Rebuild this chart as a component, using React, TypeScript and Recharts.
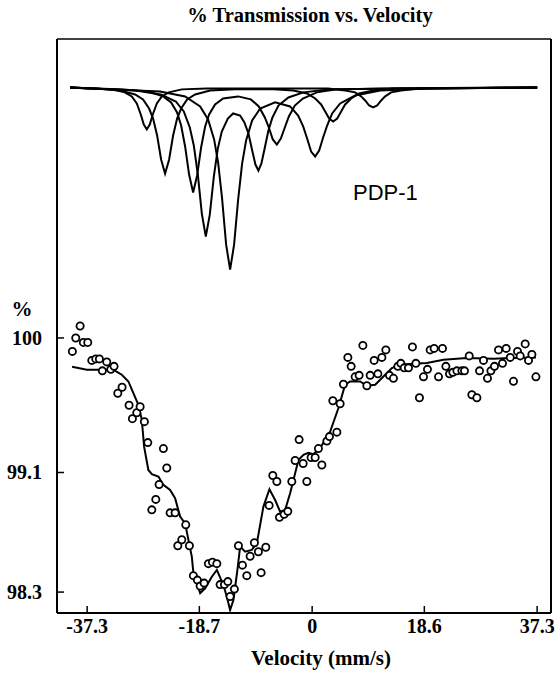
import React from 'react';
import { ComposedChart, Line, Scatter, XAxis, YAxis } from 'recharts';

const velocityTicks = [-37.3, -18.7, 0, 18.6, 37.3];
const transmissionTicks = [98.3, 99.1, 100];

// measured points [velocity mm/s, % transmission]
const measured: number[][] = [
  [-39.75, 99.91], [-39.19, 100.0], [-38.47, 100.08], [-37.93, 99.97], [-37.2, 99.97],
  [-36.53, 99.85], [-35.87, 99.86], [-35.27, 99.86], [-34.78, 99.78], [-34.05, 99.84],
  [-33.38, 99.79], [-32.84, 99.81], [-32.22, 99.63], [-31.51, 99.67], [-30.35, 99.55],
  [-29.8, 99.46], [-29.07, 99.5], [-28.52, 99.54], [-27.81, 99.44], [-27.25, 99.3],
  [-26.58, 98.85], [-25.92, 98.92], [-25.37, 99.02], [-24.66, 99.26], [-24.1, 99.13],
  [-23.55, 98.83], [-22.72, 98.83], [-22.27, 98.61], [-21.61, 98.65], [-20.95, 98.75],
  [-20.35, 98.61], [-19.69, 98.41], [-19.02, 98.38], [-18.57, 98.34], [-17.91, 98.36],
  [-17.2, 98.49], [-16.53, 98.5], [-15.8, 98.49], [-15.26, 98.35], [-14.54, 98.35],
  [-13.98, 98.37], [-13.6, 98.27], [-12.89, 98.32], [-12.22, 98.61], [-11.56, 98.48],
  [-10.83, 98.41], [-10.28, 98.54], [-9.57, 98.63], [-8.91, 98.57], [-8.46, 98.43],
  [-7.68, 98.6], [-7.13, 98.88], [-6.52, 99.08], [-5.85, 99.04], [-5.42, 98.8],
  [-4.64, 98.82], [-4.03, 98.84], [-3.37, 99.04], [-2.82, 99.18], [-2.16, 99.32],
  [-1.49, 99.16], [-0.88, 99.04], [-0.17, 99.2], [0.5, 99.2], [1.04, 99.26],
  [1.61, 99.15], [2.44, 99.31], [2.87, 99.34], [3.43, 99.58], [4.1, 99.37],
  [4.64, 99.56], [5.19, 99.69], [5.92, 99.87], [6.47, 99.81], [7.13, 99.74],
  [7.79, 99.75], [8.41, 99.95], [9.07, 99.68], [9.62, 99.75], [10.28, 99.85],
  [10.9, 99.76], [11.56, 99.87], [12.22, 99.92], [12.82, 99.75], [13.48, 99.73],
  [14.21, 99.81], [14.71, 99.83], [15.26, 99.8], [15.97, 99.8], [16.63, 99.94],
  [17.2, 99.83], [17.79, 99.6], [18.46, 99.74], [19.12, 99.79], [19.57, 99.92],
  [20.23, 99.93], [20.95, 99.74], [21.61, 99.93], [22.17, 99.81], [22.77, 99.76],
  [23.33, 99.77], [24.0, 99.78], [24.83, 99.78], [25.26, 99.78], [26.04, 99.88],
  [26.48, 99.62], [27.31, 99.6], [27.75, 99.78], [28.41, 99.85], [29.07, 99.73],
  [29.64, 99.78], [30.23, 99.81], [30.9, 99.92], [31.56, 99.83], [32.17, 99.93],
  [32.84, 99.87], [33.38, 99.71], [34.05, 99.91], [34.49, 99.88], [35.32, 99.96],
  [35.87, 99.85], [36.43, 99.89], [37.1, 99.74],
];

// fitted envelope
const fit: number[][] = [
  [-39.8, 99.807], [-37.36, 99.787], [-34.88, 99.787], [-32.95, 99.787], [-31.56, 99.754],
  [-30.46, 99.709], [-29.64, 99.631], [-28.81, 99.553], [-28.24, 99.452], [-27.86, 99.273],
  [-27.15, 99.117], [-26.58, 99.089], [-25.49, 99.073], [-24.66, 99.017], [-23.55, 98.983],
  [-22.72, 98.928], [-21.89, 98.805], [-21.06, 98.76], [-20.51, 98.649], [-19.95, 98.537],
  [-19.68, 98.425], [-19.12, 98.359], [-18.57, 98.292], [-17.74, 98.325], [-16.63, 98.403],
  [-15.8, 98.448], [-14.71, 98.347], [-14.15, 98.269], [-13.6, 98.18], [-13.05, 98.247],
  [-12.39, 98.448], [-11.94, 98.604], [-11.11, 98.57], [-10.0, 98.582], [-9.17, 98.626],
  [-8.08, 98.872], [-7.08, 98.988], [-6.14, 98.916], [-5.31, 98.838], [-4.48, 98.849],
  [-3.65, 98.961], [-2.27, 99.184], [-1.44, 99.218], [-0.61, 99.231], [0.22, 99.223],
  [1.33, 99.263], [2.99, 99.374], [4.36, 99.531], [5.47, 99.687], [6.3, 99.709],
  [7.96, 99.709], [9.07, 99.68], [10.45, 99.687], [11.82, 99.742], [13.22, 99.799],
  [14.59, 99.821], [16.8, 99.827], [19.02, 99.832], [21.77, 99.854], [25.65, 99.866],
  [30.07, 99.861], [33.38, 99.866], [37.1, 99.87],
];

// component subspectra (drawn offset above the data)
const comp1: number[][] = [
  [-40.13, 101.676], [-25.21, 101.649], [-21.06, 101.616], [-18.57, 101.549], [-17.25, 101.462],
  [-16.25, 101.328], [-15.59, 101.174], [-14.93, 100.933], [-14.26, 100.624], [-13.6, 100.457],
  [-12.94, 100.624], [-12.27, 100.926], [-11.61, 101.167], [-10.95, 101.321], [-9.95, 101.455],
  [-8.62, 101.535], [-6.14, 101.576], [-3.65, 101.549], [-2.32, 101.488], [-1.49, 101.415],
  [-0.83, 101.334], [-0.17, 101.247], [0.5, 101.214], [1.16, 101.254], [1.82, 101.341],
  [2.49, 101.421], [3.32, 101.502], [4.64, 101.569], [7.13, 101.622], [11.28, 101.656],
  [19.57, 101.669], [37.31, 101.676],
];
const comp2: number[][] = [
  [-40.13, 101.676], [-29.24, 101.656], [-25.09, 101.629], [-22.6, 101.582], [-21.28, 101.515],
  [-20.28, 101.408], [-19.62, 101.288], [-18.95, 101.093], [-18.29, 100.832], [-17.63, 100.678],
  [-16.97, 100.825], [-16.3, 101.08], [-15.64, 101.267], [-14.98, 101.381], [-13.98, 101.468],
  [-13.1, 101.502], [-11.94, 101.488], [-11.23, 101.442], [-10.56, 101.368], [-9.9, 101.247],
  [-9.4, 101.16], [-8.91, 101.12], [-8.41, 101.167], [-7.91, 101.261], [-7.25, 101.388],
  [-6.58, 101.475], [-5.59, 101.555], [-3.93, 101.609], [-1.44, 101.643], [2.99, 101.663],
  [37.31, 101.676],
];
const comp3: number[][] = [
  [-40.13, 101.676], [-31.34, 101.663], [-27.2, 101.649], [-24.71, 101.616], [-23.38, 101.576],
  [-22.39, 101.509], [-21.72, 101.421], [-21.06, 101.281], [-20.4, 101.093], [-19.73, 100.973],
  [-19.07, 101.087], [-18.41, 101.274], [-17.74, 101.415], [-17.08, 101.495], [-16.09, 101.562],
  [-14.76, 101.602], [-12.27, 101.616], [-10.17, 101.596], [-8.84, 101.549], [-7.84, 101.475],
  [-7.18, 101.408], [-6.52, 101.328], [-5.85, 101.294], [-5.19, 101.334], [-4.53, 101.408],
  [-3.86, 101.482], [-2.87, 101.555], [-1.54, 101.602], [0.78, 101.643], [4.1, 101.663],
  [11.28, 101.669], [37.31, 101.676],
];
const comp4: number[][] = [
  [-40.13, 101.676], [-35.99, 101.669], [-31.84, 101.656], [-29.35, 101.629], [-28.03, 101.596],
  [-27.03, 101.535], [-26.37, 101.468], [-25.7, 101.354], [-25.04, 101.194], [-24.38, 101.1],
  [-23.71, 101.194], [-23.05, 101.354], [-22.39, 101.468], [-21.72, 101.535], [-20.73, 101.596],
  [-19.4, 101.629], [-16.92, 101.656], [-12.77, 101.663], [-6.47, 101.663], [-3.15, 101.656],
  [-0.83, 101.636], [0.5, 101.602], [1.49, 101.562], [2.16, 101.515], [2.82, 101.468],
  [3.48, 101.448], [4.15, 101.468], [4.81, 101.515], [5.47, 101.562], [6.47, 101.602],
  [7.79, 101.636], [10.12, 101.656], [13.43, 101.669], [37.31, 101.676],
];
const comp5: number[][] = [
  [-40.13, 101.676], [-37.36, 101.669], [-33.22, 101.663], [-31.06, 101.643], [-29.9, 101.616],
  [-29.07, 101.569], [-28.41, 101.495], [-27.91, 101.428], [-27.41, 101.395], [-26.92, 101.428],
  [-26.42, 101.495], [-25.75, 101.569], [-24.93, 101.616], [-23.77, 101.643], [-21.61, 101.663],
  [-17.46, 101.669], [2.65, 101.669], [5.47, 101.656], [7.13, 101.643], [8.13, 101.616],
  [8.79, 101.589], [9.45, 101.555], [10.12, 101.542], [10.78, 101.555], [11.44, 101.589],
  [12.11, 101.616], [13.1, 101.643], [14.76, 101.656], [17.58, 101.669], [37.31, 101.676],
];

const toRows = (pairs: number[][]) => pairs.map(([v, t]) => ({ v, t }));

const SERIF = '"Liberation Serif", "Times New Roman", serif';
const SANS = '"Liberation Sans", Arial, sans-serif';

const OpenCircle = (props: any) => {
  const { cx, cy } = props;
  if (cx == null || cy == null) return <g />;
  return <circle cx={cx} cy={cy} r={3.6} fill="#fff" stroke="#000" strokeWidth={1.8} />;
};

const XTick = (props: any) => {
  const { x, y, payload } = props;
  return (
    <text x={x} y={y} dy={16} textAnchor="middle" fontFamily={SERIF} fontSize={20} fontWeight="bold" fill="#000">
      {String(payload.value)}
    </text>
  );
};

const YTick = (props: any) => {
  const { x, y, payload } = props;
  return (
    <text x={x} y={y} dy={7} textAnchor="end" fontFamily={SERIF} fontSize={20} fontWeight="bold" fill="#000">
      {String(payload.value)}
    </text>
  );
};

const components = [comp1, comp2, comp3, comp4, comp5];

export default function App() {
  return (
    <div style={{ position: 'absolute', left: 0, top: 0, width: 556, height: 673, background: '#fff' }}>
      <ComposedChart width={556} height={673} margin={{ top: 38, right: 4, bottom: 30, left: 0 }}>
        <XAxis
          xAxisId="b"
          type="number"
          dataKey="v"
          domain={[-42.3, 39.6]}
          allowDataOverflow
          ticks={velocityTicks}
          interval={0}
          height={30}
          tickSize={-7}
          tickMargin={11}
          axisLine={{ stroke: '#000', strokeWidth: 2 }}
          tickLine={{ stroke: '#000', strokeWidth: 1.5 }}
          tick={<XTick />}
        />
        <XAxis
          xAxisId="t"
          orientation="top"
          type="number"
          dataKey="v"
          domain={[-42.3, 39.6]}
          allowDataOverflow
          height={1}
          tick={false}
          tickLine={false}
          axisLine={{ stroke: '#000', strokeWidth: 1.5 }}
        />
        <YAxis
          yAxisId="l"
          type="number"
          dataKey="t"
          domain={[98.16, 102.0]}
          allowDataOverflow
          ticks={transmissionTicks}
          interval={0}
          width={57}
          tickSize={-7}
          tickMargin={22}
          axisLine={{ stroke: '#000', strokeWidth: 2 }}
          tickLine={{ stroke: '#000', strokeWidth: 1.5 }}
          tick={<YTick />}
        />
        <YAxis
          yAxisId="r"
          orientation="right"
          type="number"
          domain={[98.16, 102.0]}
          allowDataOverflow
          width={1}
          tick={false}
          tickLine={false}
          axisLine={{ stroke: '#000', strokeWidth: 2 }}
        />
        {components.map((c, i) => (
          <Line
            key={'c' + i}
            xAxisId="b"
            yAxisId="l"
            data={toRows(c)}
            dataKey="t"
            type="linear"
            dot={false}
            activeDot={false}
            stroke="#000"
            strokeWidth={2}
            isAnimationActive={false}
          />
        ))}
        <Line
          xAxisId="b"
          yAxisId="l"
          data={toRows(fit)}
          dataKey="t"
          type="linear"
          dot={false}
          activeDot={false}
          stroke="#000"
          strokeWidth={2}
          isAnimationActive={false}
        />
        <Scatter
          xAxisId="b"
          yAxisId="l"
          data={toRows(measured)}
          dataKey="t"
          shape={OpenCircle}
          isAnimationActive={false}
        />
      </ComposedChart>
      <svg
        width={556}
        height={673}
        style={{ position: 'absolute', left: 0, top: 0, pointerEvents: 'none' }}
      >
        <text x={310} y={22} textAnchor="middle" fontSize={20.5} fontWeight="bold" fontFamily={SERIF} fill="#000">
          % Transmission vs. Velocity
        </text>
        <text x={22} y={316} textAnchor="middle" fontSize={21} fontWeight="bold" fontFamily={SERIF} fill="#000">
          %
        </text>
        <text x={353} y={200} fontSize={22} fontFamily={SANS} fill="#000">
          PDP-1
        </text>
        <text x={321} y={665} textAnchor="middle" fontSize={21} fontWeight="bold" fontFamily={SERIF} fill="#000">
          Velocity (mm/s)
        </text>
      </svg>
    </div>
  );
}
